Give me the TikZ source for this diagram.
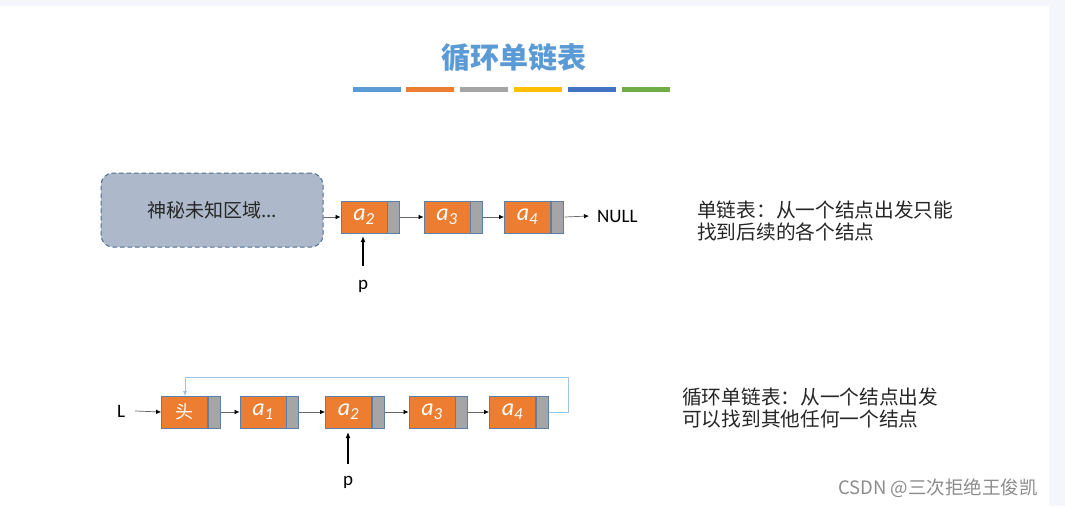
\documentclass[tikz,border=0pt]{standalone}
\usepackage{fontspec}
\setmainfont{Carlito}
\newfontfamily\cjk{Noto Sans CJK SC}
\usetikzlibrary{arrows.meta}
\definecolor{bgc}{HTML}{F5F6FB}
\definecolor{titleblue}{HTML}{5B9BD5}
\definecolor{orng}{HTML}{ED7D31}
\definecolor{gry}{HTML}{A5A5A5}
\definecolor{gold}{HTML}{FFC000}
\definecolor{dblue}{HTML}{4472C4}
\definecolor{grn}{HTML}{70AD47}
\definecolor{edge}{HTML}{5B7FA6}
\definecolor{mystfill}{HTML}{ADB9CA}
\definecolor{mystedge}{HTML}{4F6E91}
\definecolor{loopc}{HTML}{9DC3E6}
\definecolor{txt}{HTML}{262626}
\tikzset{
  x=1pt, y=-1pt,
  dat/.style={draw=edge, line width=0.8pt, fill=orng, minimum width=46pt, minimum height=32pt, inner sep=0pt, text=white, font=\fontsize{24}{24}\selectfont},
  ptr/.style={draw=edge, line width=0.8pt, fill=gry, minimum width=12pt, minimum height=32pt, inner sep=0pt},
  link/.style={draw=black!60, line width=0.7pt, -{Latex[length=5pt,width=4.5pt,black]}},
  parrow/.style={draw=black, line width=1.2pt, -{Latex[length=6pt,width=5pt]}},
  cjktxt/.style={font=\cjk\fontsize{19.7}{22.5}\selectfont, text=txt, inner sep=0pt, anchor=west, align=left},
  lat/.style={font=\fontsize{19}{19}\selectfont, text=black, inner sep=0pt},
  bar/.style={line width=4.5pt},
}
\newcommand{\av}[1]{\textit{a}\textsubscript{\textit{#1}}}
\begin{document}
\begin{tikzpicture}
\fill[bgc] (0,0) rectangle (1065,506);
\fill[white] (0,6) rectangle (1049,506);
\useasboundingbox (0,0) rectangle (1065,506);

% title
\node[font=\cjk\bfseries\fontsize{29}{29}\selectfont, text=titleblue] (title) at (514,58) {循环单链表};
\draw[bar, titleblue] (353,89.5) -- (401,89.5);
\draw[bar, orng] (406,89.5) -- (454,89.5);
\draw[bar, gry] (460,89.5) -- (508,89.5);
\draw[bar, gold] (514,89.5) -- (562,89.5);
\draw[bar, dblue] (568,89.5) -- (616,89.5);
\draw[bar, grn] (622,89.5) -- (670,89.5);

% top row
\node[draw=mystedge, dash pattern=on 4.5pt off 3pt, line width=1pt, fill=mystfill, rounded corners=12pt, minimum width=222pt, minimum height=74pt, font=\cjk\fontsize{19}{19}\selectfont, text=txt] (myst) at (212,210) {神秘未知区域...};
\node[dat] (t2) at (364,217) {\av{2}};
\node[ptr, anchor=west] (t2p) at (t2.east) {};
\node[dat] (t3) at (447,217) {\av{3}};
\node[ptr, anchor=west] (t3p) at (t3.east) {};
\node[dat] (t4) at (527.5,217) {\av{4}};
\node[ptr, anchor=west] (t4p) at (t4.east) {};
\node[lat, anchor=west] (null) at (597,216) {NULL};
\draw[link] (myst.east |- t2.west) -- (t2.west);
\draw[link] (t2p.east) -- (t3.west);
\draw[link] (t3p.east) -- (t4.west);
\draw[link] ([xshift=1pt]t4p.east) -- ([xshift=-8pt]null.west);
\node[lat] (p1) at (363,286) {p};
\coordinate (p1s) at (363,266);
\draw[parrow] (p1s) -- (363,236);

\node[cjktxt] (desc1) at (697,221) {单链表：从一个结点出发只能\\找到后续的各个结点};

% bottom row
\node[lat] (L) at (121,411) {L};
\node[dat, font=\cjk\fontsize{18}{18}\selectfont] (h) at (184.5,412) {头};
\node[ptr, anchor=west] (hp) at (h.east) {};
\node[dat] (b1) at (263,412) {\av{1}};
\node[ptr, anchor=west] (b1p) at (b1.east) {};
\node[dat] (b2) at (348.5,412) {\av{2}};
\node[ptr, anchor=west] (b2p) at (b2.east) {};
\node[dat] (b3) at (432,412) {\av{3}};
\node[ptr, anchor=west] (b3p) at (b3.east) {};
\node[dat] (b4) at (512.5,412) {\av{4}};
\node[ptr, anchor=west] (b4p) at (b4.east) {};
\draw[link] ([xshift=10pt]L.east) -- (h.west);
\draw[link] (hp.east) -- (b1.west);
\draw[link] (b1p.east) -- (b2.west);
\draw[link] (b2p.east) -- (b3.west);
\draw[link] (b3p.east) -- (b4.west);
\coordinate (loopr) at (568,377);
\draw[loopc, line width=0.9pt, -{Latex[length=5pt,width=4.5pt]}] (b4p.east) -| (loopr) -| (185,396);
\node[lat] (p2) at (348,482) {p};
\coordinate (p2s) at (348,464);
\draw[parrow] (p2s) -- (348,432);

\node[cjktxt] (desc2) at (682,408) {循环单链表：从一个结点出发\\可以找到其他任何一个结点};

\node[font=\cjk\fontsize{18.5}{18.5}\selectfont, text=black!45, anchor=west, inner sep=0pt] (csdn) at (838,488) {CSDN @三次拒绝王俊凯};
\end{tikzpicture}
\end{document}
